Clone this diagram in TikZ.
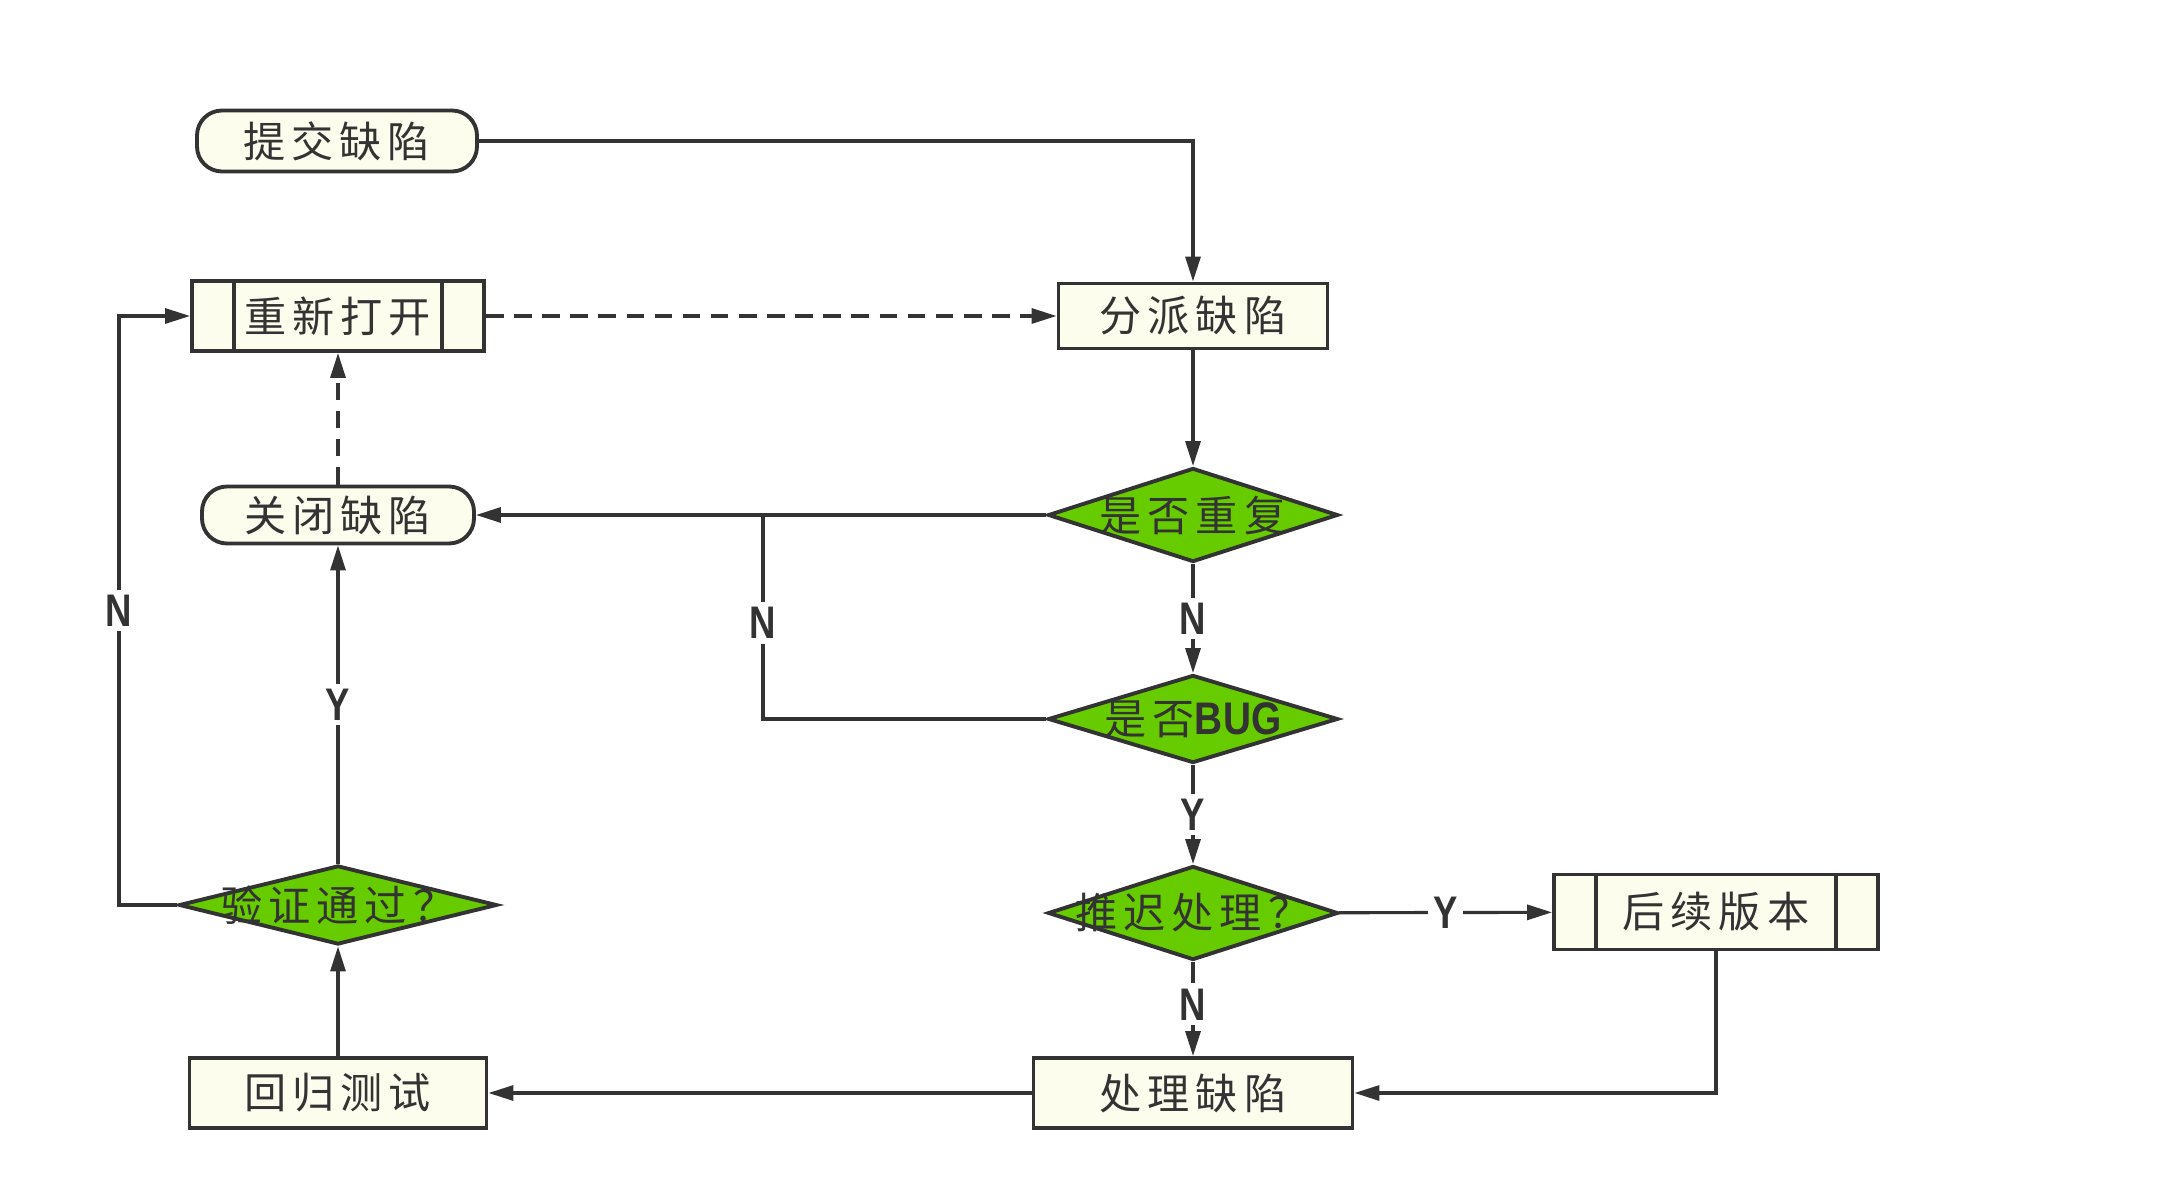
\documentclass[tikz,border=0pt]{standalone}
\usepackage{fontspec}
\setmainfont{Liberation Sans}
\newfontfamily\cjk[LetterSpace=14]{Noto Sans CJK SC}
\usetikzlibrary{shapes.geometric,arrows.meta}
\definecolor{ink}{HTML}{333333}
\definecolor{cream}{HTML}{FDFDEE}
\definecolor{leaf}{HTML}{66CC00}
\newcommand{\yn}[1]{\scalebox{0.8}[1]{\rmfamily\bfseries #1}}

\begin{document}
\begin{tikzpicture}
      \useasboundingbox (0,0) rectangle (21.62,11.80);
      \tikzset{T/.style = {draw=ink, fill=cream, line width=1.1pt, rounded corners=0.25cm, inner sep=0,
          font=\cjk\fontsize{12}{14}\selectfont, text=ink}}
      \tikzset{P/.style = {T, rounded corners=0}}
      \tikzset{S/.style = {P, path picture={
          \draw[ink,line width=1.1pt] ([xshift=0.42cm]path picture bounding box.north west) -- ([xshift=0.42cm]path picture bounding box.south west);
          \draw[ink,line width=1.1pt] ([xshift=-0.42cm]path picture bounding box.north east) -- ([xshift=-0.42cm]path picture bounding box.south east);}}}
      \tikzset{D/.style = {shape=diamond, draw=ink, fill=leaf, line width=1.1pt, inner sep=0,
          font=\cjk\fontsize{12}{14}\selectfont, text=ink}}
      \tikzset{E/.style = {draw=ink, line width=0.9pt, -{Triangle[length=0.25cm,width=0.15cm]}}}
      \tikzset{L/.style = {fill=white, inner sep=1.5pt, text=ink, font=\fontsize{13}{15}\selectfont}}
      \node[T,minimum width=2.80cm,minimum height=0.61cm](sub) at (3.37,10.39) {提交缺陷};
      \node[S,minimum width=2.92cm,minimum height=0.70cm](reo) at (3.38,8.64) {重新打开};
      \node[P,minimum width=2.69cm,minimum height=0.65cm](asg) at (11.93,8.64) {分派缺陷};
      \node[D,minimum width=2.90cm,minimum height=0.94cm](dup) at (11.93,6.65) {\makebox[0pt]{是否重复}};
      \node[T,minimum width=2.72cm,minimum height=0.57cm](clo) at (3.38,6.65) {关闭缺陷};
      \node[D,minimum width=2.90cm,minimum height=0.88cm](bug) at (11.93,4.61) {\makebox[0pt]{是否\scalebox{0.85}[1]{\rmfamily\bfseries\fontsize{13}{15}\selectfont BUG}}};
      \node[D,minimum width=2.90cm,minimum height=0.94cm](dly) at (11.93,2.67) {\makebox[0pt]{推迟处理？}};
      \node[S,minimum width=3.24cm,minimum height=0.75cm](lat) at (17.16,2.68) {后续版本};
      \node[P,minimum width=3.19cm,minimum height=0.70cm](fix) at (11.93,0.87) {处理缺陷};
      \node[P,minimum width=2.97cm,minimum height=0.70cm](reg) at (3.38,0.87) {回归测试};
      \node[D,minimum width=3.18cm,minimum height=0.79cm](ver) at (3.38,2.75) {\makebox[0pt]{验证通过？}};
      \coordinate (mrg) at (7.63,6.65);
      \coordinate (vl) at (1.19,2.75);
      \draw[E](sub.east) -| (asg.north);
      \draw[E,dash pattern=on 5pt off 3pt](reo.east) -- (asg.west);
      \draw[E](asg) -- (dup);
      \draw[E](dup.west) -- (clo.east);
      \draw[E](dup) -- node[L]{\yn{N}} (bug);
      \draw[E,-](bug.west) -| node[L,pos=0.735]{\yn{N}} (mrg);
      \draw[E](bug) -- node[L]{\yn{Y}} (dly);
      \draw[E](dly) -- node[L]{\yn{Y}} (lat);
      \draw[E](dly) -- node[L,pos=0.45]{\yn{N}} (fix);
      \draw[E](lat) |- (fix);
      \draw[E](fix) -- (reg);
      \draw[E](reg) -- (ver);
      \draw[E](ver) -- node[L]{\yn{Y}} (clo);
      \draw[E](ver.west) -- (vl) |- node[L,pos=0.25]{\yn{N}} (reo.west);
      \draw[E,dash pattern=on 5pt off 3pt](clo) -- (reo);
\end{tikzpicture}
\end{document}
